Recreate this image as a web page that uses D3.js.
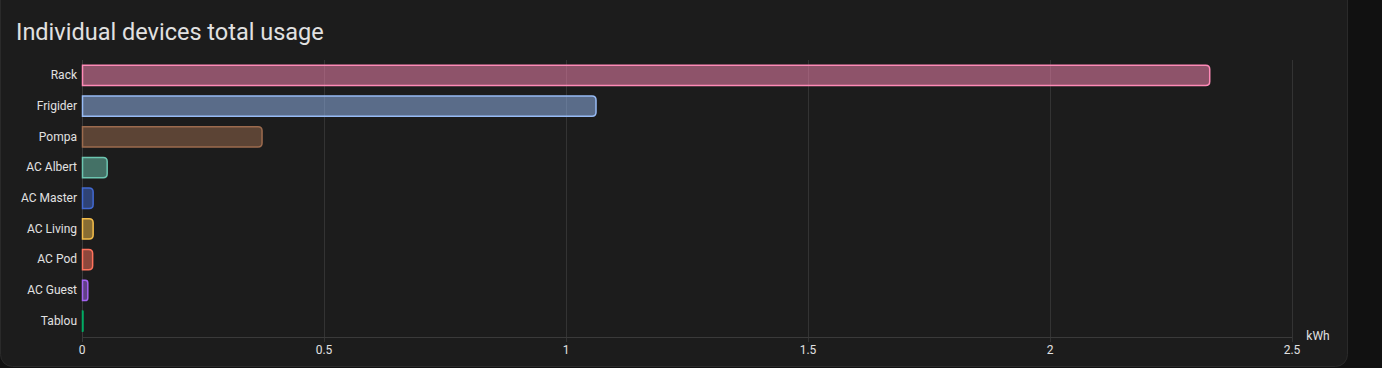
<!DOCTYPE html>
<html><head><meta charset="utf-8">
<script src="https://cdn.jsdelivr.net/npm/d3@7"></script>
<style>
html,body{margin:0;padding:0;background:#111111;}
svg{display:block;font-family:Roboto,"Noto Sans",sans-serif;}
</style></head>
<body><svg id="c" width="1382" height="368"></svg>
<script>
const categories = ["Rack","Frigider","Pompa","AC Albert","AC Master","AC Living","AC Pod","AC Guest","Tablou"];
const values = [2.33, 1.062, 0.372, 0.052, 0.023, 0.023, 0.022, 0.012, 0.002];
const colors = ["#ff8ab7","#97bbf5","#9c6b4e","#6cc5b0","#4269d0","#f4bd4a","#ff725c","#a463f2","#01ab63"];
const ticks = [0, 0.5, 1, 1.5, 2, 2.5];
const tickLabels = ["0","0.5","1","1.5","2","2.5"];
const title = "Individual devices total usage";
const unit = "kWh";

const svg = d3.select("#c");
svg.append("rect").attr("x",0.5).attr("y",-20).attr("width",1347).attr("height",386.5)
  .attr("rx",12).attr("fill","#1c1c1c").attr("stroke","#2a2a2a");

svg.append("text").attr("x",16).attr("y",40).attr("fill","#e1e1e1")
  .attr("font-size",23.5).text(title);

const x = d3.scaleLinear().domain([0,2.5]).range([82,1292]);
const y = d3.scaleBand().domain(categories).range([59.5,336]).paddingInner(0.34).paddingOuter(0.17);

const g = svg.append("g");
// grid
g.selectAll("line.grid").data(ticks).enter().append("line")
  .attr("x1",d=>Math.round(x(d))+0.5).attr("x2",d=>Math.round(x(d))+0.5)
  .attr("y1",60).attr("y2",342)
  .attr("stroke",d=>d===0?"#3a3a3a":"#333333").attr("stroke-width",1);
g.append("line").attr("x1",82).attr("x2",1292).attr("y1",337.5).attr("y2",337.5)
  .attr("stroke","#3a3a3a");

g.selectAll("text.tick").data(ticks).enter().append("text")
  .attr("x",d=>x(d)).attr("y",354).attr("text-anchor","middle")
  .attr("fill","#e1e1e1").attr("font-size",12).text((d,i)=>tickLabels[i]);

svg.append("text").attr("x",1318).attr("y",340).attr("text-anchor","middle")
  .attr("fill","#e1e1e1").attr("font-size",12).text(unit);

// labels
g.selectAll("text.lab").data(categories).enter().append("text")
  .attr("x",77).attr("y",d=>y(d)+y.bandwidth()/2).attr("dy","0.35em")
  .attr("text-anchor","end").attr("fill","#e1e1e1").attr("font-size",12).text(d=>d);

function barPath(x0,x1,y0,h){
  const w = x1-x0;
  const r = Math.min(4, w/2, h/2);
  return `M${x0},${y0}H${x1-r}Q${x1},${y0} ${x1},${y0+r}V${y0+h-r}Q${x1},${y0+h} ${x1-r},${y0+h}H${x0}Z`;
}
categories.forEach((c,i)=>{
  const x0 = x(0)+0.5, x1 = Math.max(x(values[i]), x0+0.5);
  const y0 = y(c)+0.5, h = y.bandwidth();
  g.append("path").attr("d",barPath(x0,x1,y0,h))
    .attr("fill",colors[i]).attr("fill-opacity",0.5)
    .attr("stroke",colors[i]).attr("stroke-width",1.5);
});
</script></body></html>
